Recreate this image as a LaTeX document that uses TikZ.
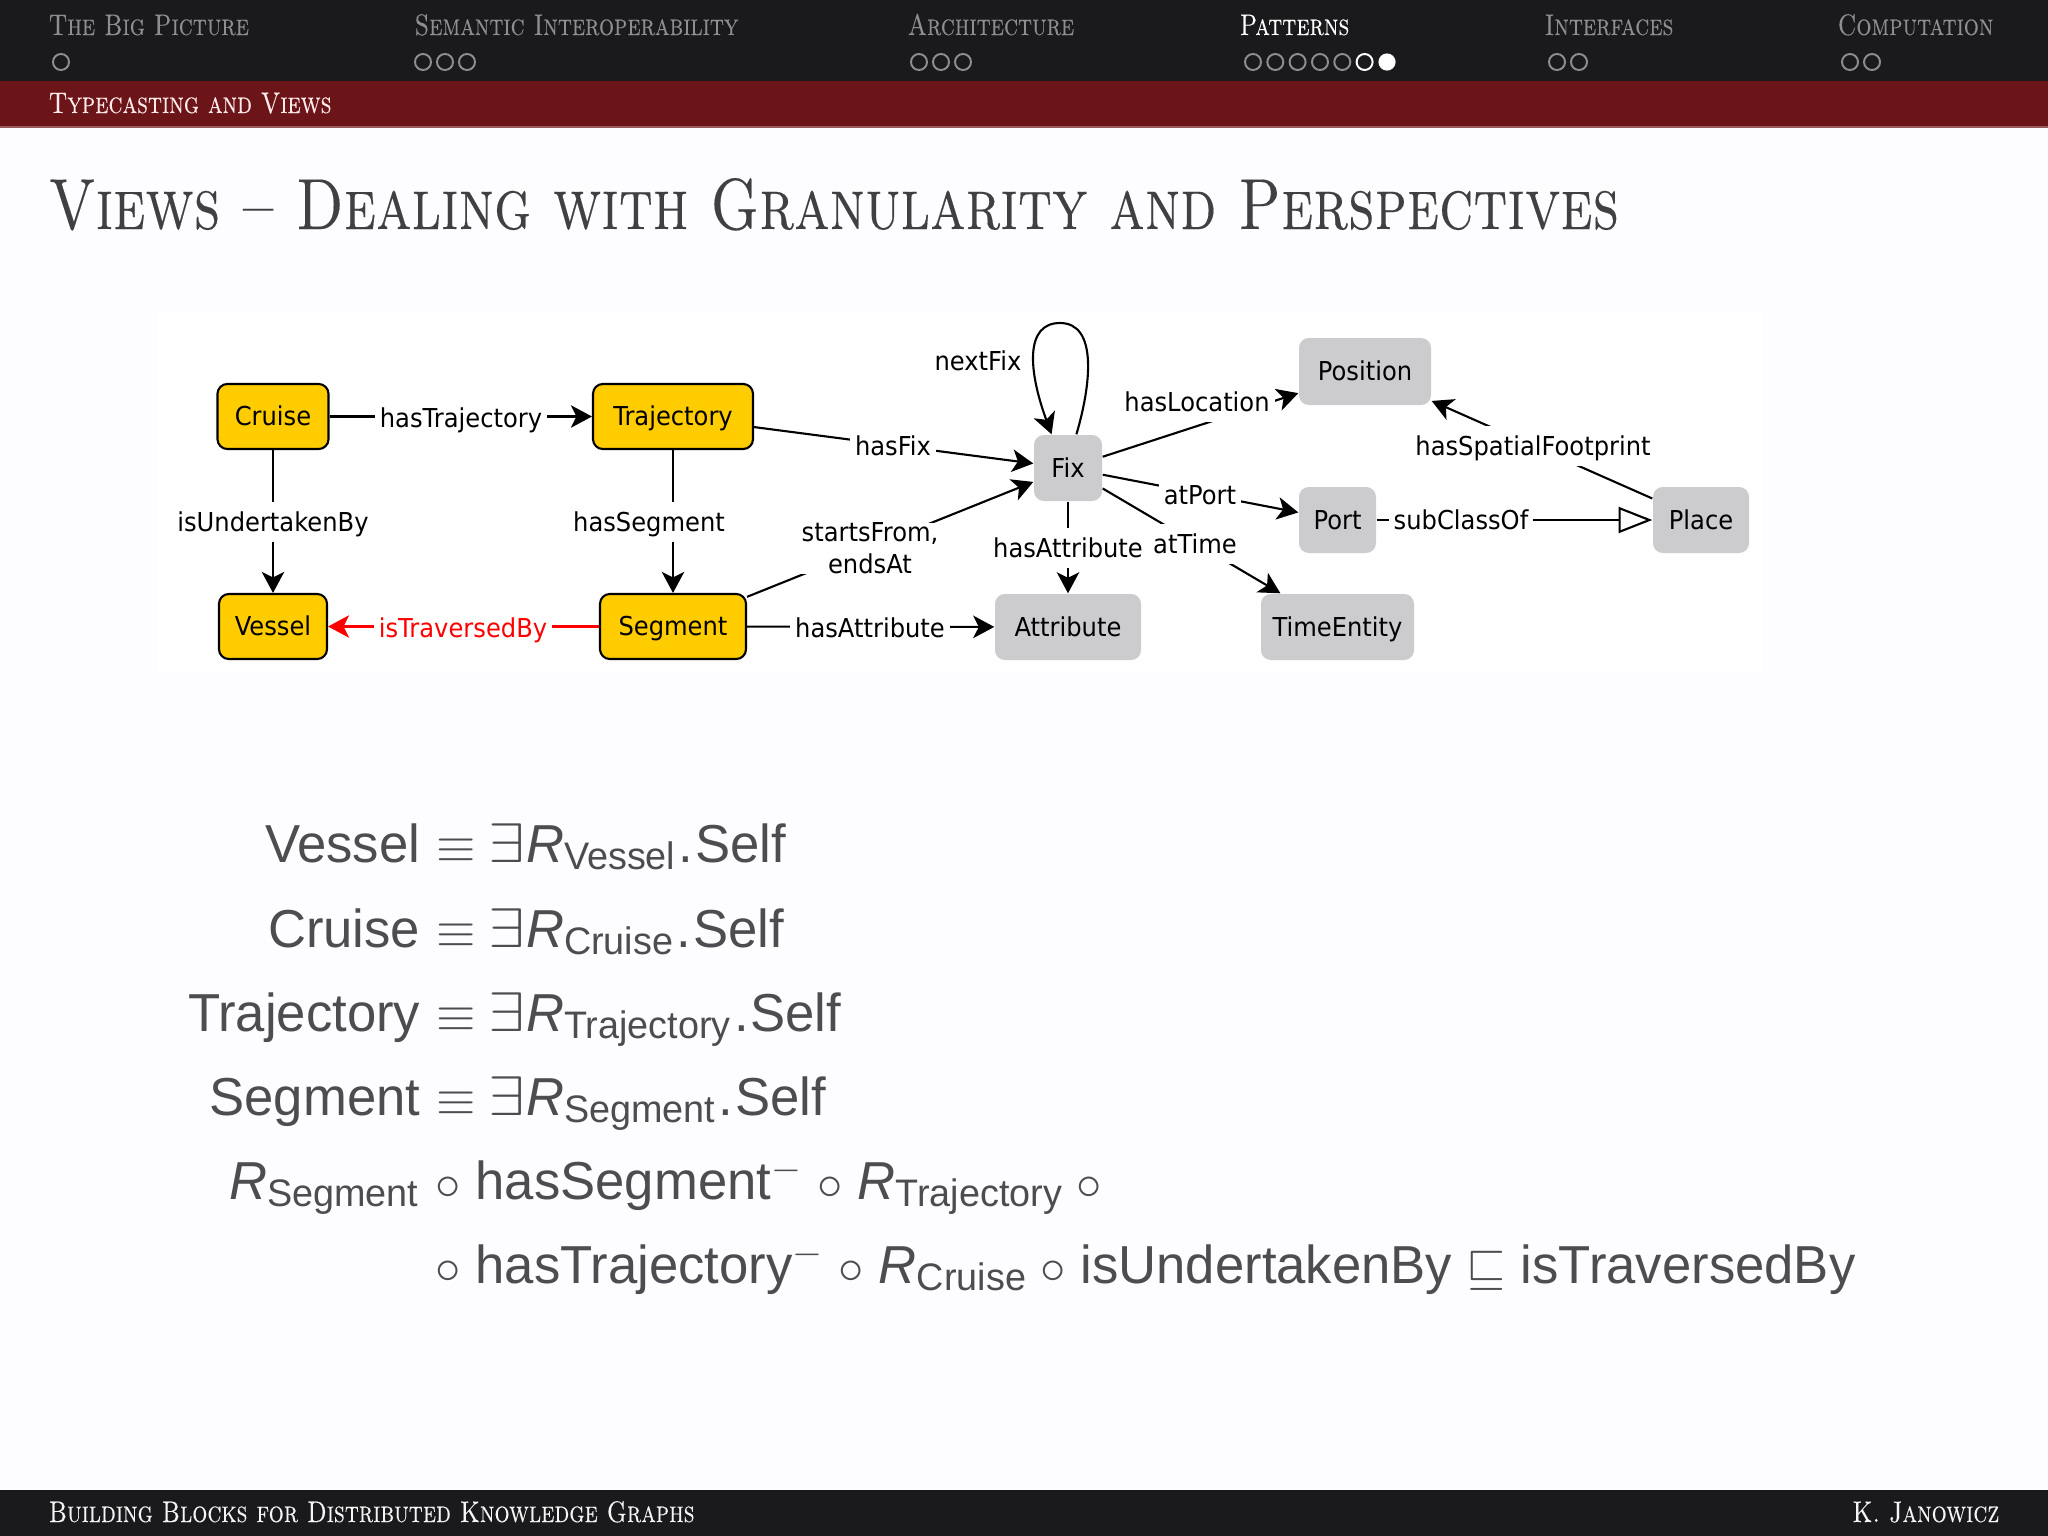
\documentclass[tikz,border=0pt]{standalone}
\usepackage{amssymb}
\usepackage{fontspec}
\newfontfamily\diagfont[FakeStretch=0.93]{DejaVu Sans}
\newfontfamily\formfont[FakeStretch=0.985]{Liberation Sans}
\newfontfamily\capsfont[FakeStretch=0.8,FakeBold=0.2]{Latin Modern Roman Caps}
\usetikzlibrary{arrows.meta}
\usetikzlibrary{calc}
\definecolor{barblack}{HTML}{1A1A1C}
\definecolor{barred}{HTML}{6C1519}
\definecolor{pagebg}{HTML}{FDFCFF}
\definecolor{navgray}{HTML}{8E8E8E}
\definecolor{titlegray}{HTML}{404044}
\definecolor{formgray}{HTML}{4D4D51}
\definecolor{classyellow}{HTML}{FFCC00}
\definecolor{classgray}{HTML}{CCCBCE}
\tikzstyle{yellowclass}=[draw=black,line width=0.6pt,fill=classyellow,rounded corners=2.8pt,inner sep=0pt,text height=6pt,text depth=0.8pt,font=\diagfont\fontsize{7.4}{9}\selectfont]
\tikzstyle{grayclass}=[fill=classgray,rounded corners=2.8pt,inner sep=0pt,text height=6pt,text depth=0.8pt,font=\diagfont\fontsize{7.4}{9}\selectfont]
\tikzstyle{edgelabel}=[fill=white,inner xsep=1.4pt,inner ysep=0pt,minimum height=0.4cm,text height=6pt,text depth=0.8pt,font=\diagfont\fontsize{7.4}{9}\selectfont]
\tikzstyle{edge}=[line width=0.6pt,-{Stealth[length=6pt,width=6.4pt,inset=1.6pt]}]
\tikzstyle{navtext}=[anchor=base west,inner sep=0pt,font=\capsfont\fontsize{8.45}{10}\selectfont]
\tikzstyle{formula}=[inner sep=0pt,text=formgray,font=\formfont\fontsize{15.2}{18}\selectfont]
\newcommand{\rolesub}[1]{\textit{R}\raisebox{-2.2pt}{\fontsize{10.9}{12}\selectfont #1}}
\newcommand{\bigexists}{\scalebox{1.3}[1.1]{$\exists$}}

\begin{document}
\begin{tikzpicture}[x=0.01cm,y=-0.01cm]
   \useasboundingbox (0,0) rectangle (2048,1536);
   \fill[pagebg] (0,0) rectangle (2048,1536);
   \fill[barblack] (0,0) rectangle (2048,81);
   \fill[barred] (0,81) rectangle (2048,126);
   \fill[barred!70!white] (0,126) rectangle (2048,127.5);
   \fill[barblack] (0,1490) rectangle (2048,1536);
   \fill[white] (157,312) rectangle (1763,672);

   % navigation
   \foreach \name/\x/\lab in {nava/48/The Big Picture, navb/414/Semantic Interoperability, navc/907/Architecture, nave/1544/Interfaces, navf/1837/Computation}
        \node[navtext,text=navgray] (\name) at (\x,35) {\lab};
   \node[navtext,text=white] (navd) at (1239,35) {Patterns};
   \foreach \x in {61, 423, 445, 467, 919, 941, 963, 1253, 1275.3, 1297.6, 1320, 1342.3, 1557, 1579, 1850, 1872}
        \draw[navgray,line width=0.55pt] (\x,62) circle (8);
   \draw[white,line width=0.55pt] (1364.6,62) circle (8);
   \fill[white] (1387,62) circle (8.6);
   \node[navtext,text=white!92!red] (subsec) at (48,113) {Typecasting and Views};
   \node[navtext,text=white!92!gray] (footl) at (48,1522) {Building Blocks for Distributed Knowledge Graphs};
   \node[navtext,text=white!92!gray,anchor=base east] (footr) at (2000,1522) {K. Janowicz};
   \node[anchor=base west,inner sep=0pt,text=titlegray,font=\capsfont\fontsize{20.55}{25}\selectfont] (slidetitle) at (48,229) {Views – Dealing with Granularity and Perspectives};

   % classes
    \foreach \name/\pos/\w in {Cruise/{(273,416.5)}/111, Trajectory/{(673,416.5)}/160, Vessel/{(273,626.5)}/108, Segment/{(673,626.5)}/146}
        \node[yellowclass,minimum width=\w*0.01cm,minimum height=0.65cm] (\name) at \pos {\name};
    \foreach \name/\pos/\w/\h in {Fix/{(1068,468)}/68/66, Position/{(1365,371.5)}/132/67, Port/{(1337.5,520)}/77/66, Place/{(1701,520)}/96/66, Attribute/{(1068,627)}/146/66, TimeEntity/{(1337.5,627)}/153/66}
        \node[grayclass,minimum width=\w*0.01cm,minimum height=\h*0.01cm] (\name) at \pos {\name};

   % relations
    \foreach \source/\dest in {Cruise/Trajectory, Cruise/Vessel, Trajectory/Segment, Trajectory/Fix, Segment/Attribute, Segment/Fix, Fix/Position, Fix/Port, Fix/Attribute, Fix/TimeEntity, Place/Position}
        \draw[edge] (\source) -- (\dest);
    \draw[edge,red] (Segment) -- (Vessel);
    \draw[line width=0.6pt,-{Triangle[open,length=9.6pt,width=7.4pt]}] (Port) -- (Place);
    \draw[edge] (Fix.76) .. controls (1091,385) and (1098,323) .. (1060,323) .. controls (1025,323) and (1028,370) .. (Fix.116);

    \foreach \name/\pos/\lab in {ltraj/{(461,418)}/hasTrajectory, lunder/{(273,522)}/isUndertakenBy, lseg/{(649,522)}/hasSegment, lsegattr/{(870,628)}/hasAttribute, lfix/{(893,446)}/hasFix, lnext/{(978,361)}/nextFix, lloc/{(1197,402)}/hasLocation, lfixattr/{(1068,548)}/hasAttribute, lport/{(1200,495)}/atPort, ltime/{(1195,544)}/atTime, lfoot/{(1533,446)}/hasSpatialFootprint, lsub/{(1461,520)}/subClassOf}
        \node[edgelabel] (\name) at \pos {\lab};
    \node[edgelabel,text=red] (ltrav) at (463,628) {isTraversedBy};
    \node[edgelabel,align=center,text height=,text depth=,minimum height=0pt] (lstart) at (870,548) {startsFrom,\\endsAt};

   % axioms
    \foreach \name/\y/\lab in {fa/862/Vessel, fb/947/Cruise, fc/1031/Trajectory, fd/1115/Segment}
    {
        \node[formula,anchor=base east] (\name l) at (421,\y) {\lab};
        \node[formula,anchor=base west] (\name r) at (436,\y) {$\equiv$\hspace{3.4pt}\bigexists\hspace{0.4pt}\rolesub{\lab}\hspace{1pt}.\hspace{0.5pt}Self};
    }
    \node[formula,anchor=base east] (fel) at (419,1199) {\rolesub{Segment}};
    \node[formula,anchor=base west] (fer) at (435,1199) {$\circ$ hasSegment$^-$ $\circ$ \rolesub{Trajectory} $\circ$};
    \node[formula,anchor=base west] (ffr) at (435,1283) {$\circ$ hasTrajectory$^-$ $\circ$ \rolesub{Cruise} $\circ$ isUndertakenBy $\sqsubseteq$ isTraversedBy};
\end{tikzpicture}
\end{document}
